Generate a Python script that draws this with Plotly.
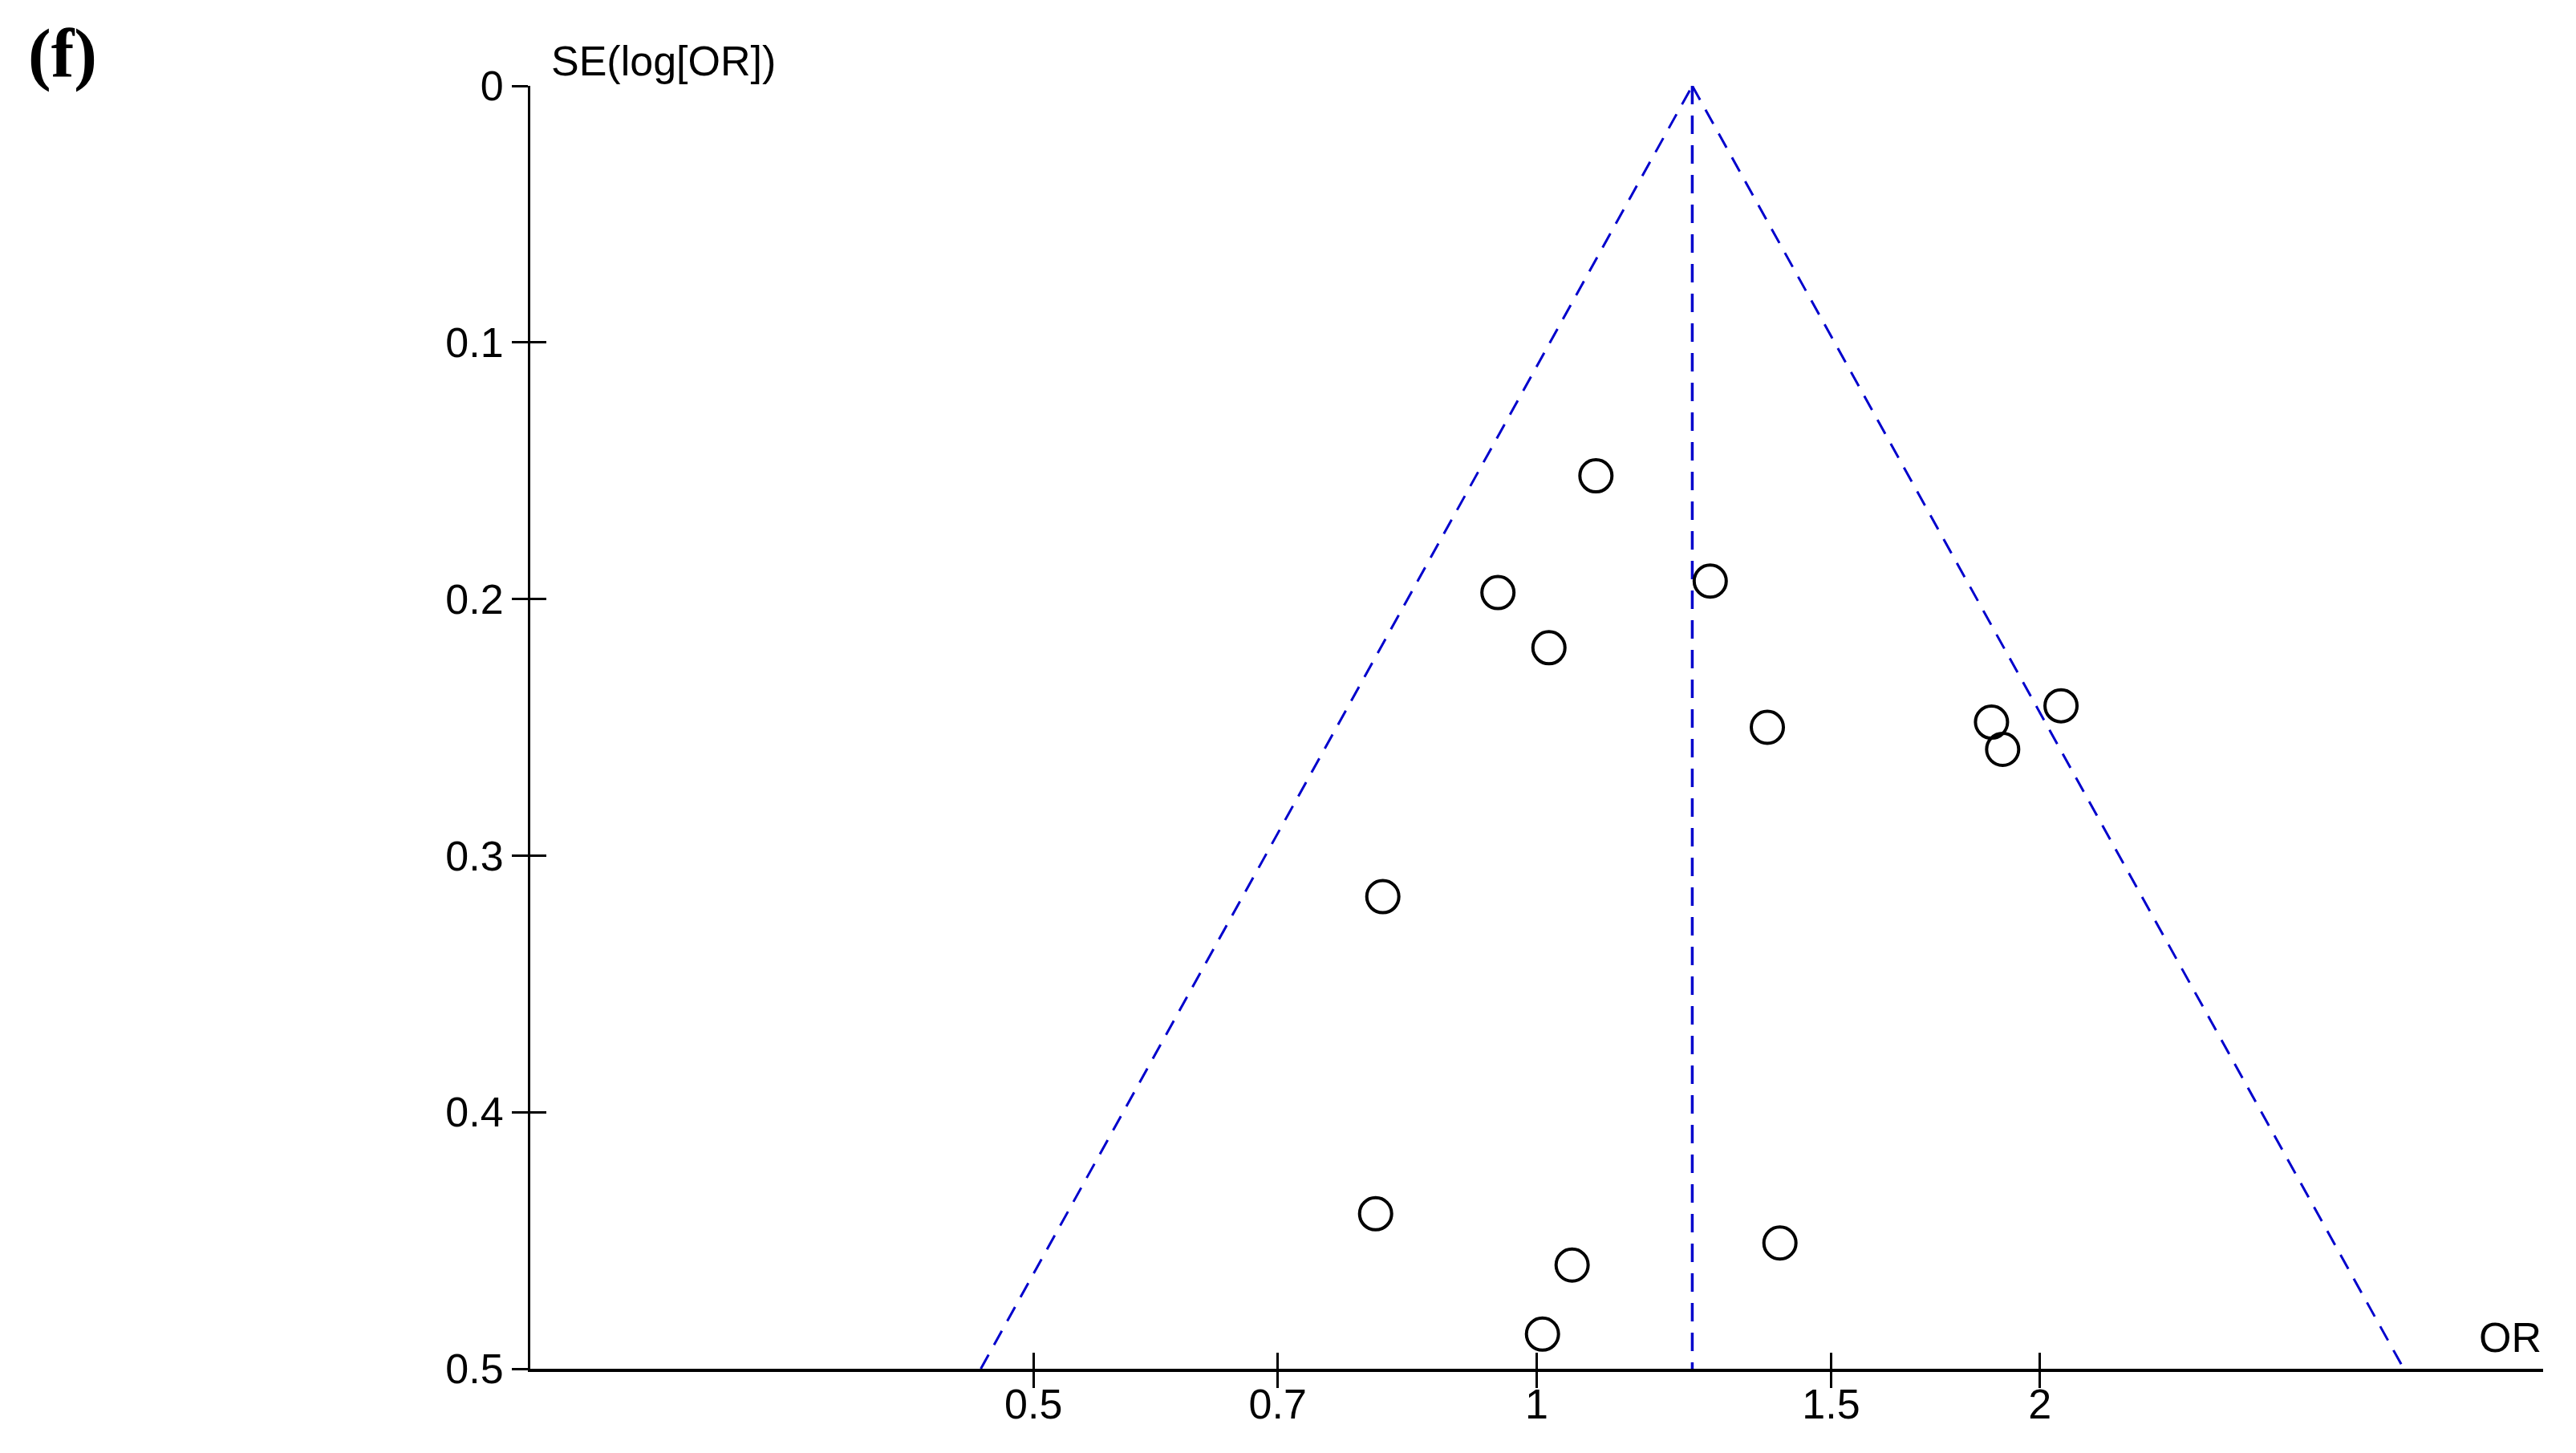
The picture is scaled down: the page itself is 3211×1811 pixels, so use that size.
import math
import plotly.graph_objects as go

# ---- data ----
study_or = [1.085, 0.948, 1.270, 1.017, 1.374, 1.871, 1.900, 2.059, 0.809, 0.801, 1.398, 1.050, 1.008]
study_se = [0.152, 0.1975, 0.193, 0.219, 0.250, 0.248, 0.2586, 0.2416, 0.316, 0.4396, 0.451, 0.4596, 0.4865]
pooled_or = 1.239
z_value = 1.96
se_max = 0.5
x_ticks = [0.5, 0.7, 1, 1.5, 2]
x_tick_labels = ["0.5", "0.7", "1", "1.5", "2"]
y_ticks = [0, 0.1, 0.2, 0.3, 0.4, 0.5]
y_tick_labels = ["0", "0.1", "0.2", "0.3", "0.4", "0.5"]
x_range_or = [0.25, 4]

BLUE = "#0000CC"
TICK_FONT = dict(family="Liberation Sans Narrow, Arial Narrow, Liberation Sans, Arial", size=52, color="black")

# funnel limits derived from pooled estimate
lp = math.log(pooled_or)
left_x = [math.exp(lp - z_value * se_max), pooled_or]
right_x = [pooled_or, math.exp(lp + z_value * se_max)]
funnel_y = [se_max, 0]

fig = go.Figure()
fig.add_trace(go.Scatter(x=left_x, y=funnel_y, mode="lines",
                         line=dict(color=BLUE, width=3, dash="20px,14px"), hoverinfo="skip"))
fig.add_trace(go.Scatter(x=right_x, y=[0, se_max], mode="lines",
                         line=dict(color=BLUE, width=3, dash="20px,14px"), hoverinfo="skip"))
fig.add_trace(go.Scatter(x=[pooled_or, pooled_or], y=[0, se_max], mode="lines",
                         line=dict(color=BLUE, width=3.5, dash="23px,14px"), hoverinfo="skip"))
fig.add_trace(go.Scatter(x=study_or, y=study_se, mode="markers",
                         marker=dict(symbol="circle-open", size=40, color="black",
                                     line=dict(color="black", width=4))))
# invisible trace to activate the overlay axes that draw the inner half of each tick
fig.add_trace(go.Scatter(x=[pooled_or], y=[0], xaxis="x2", yaxis="y2", mode="markers",
                         marker=dict(opacity=0), hoverinfo="skip"))

xr = [math.log10(x_range_or[0]), math.log10(x_range_or[1])]
yr = [y_ticks[-1], y_ticks[0]]

common_x = dict(type="log", range=xr, tickmode="array", tickvals=x_ticks, showgrid=False, zeroline=False)
common_y = dict(range=yr, tickmode="array", tickvals=y_ticks, showgrid=False, zeroline=False)

fig.update_layout(
    width=3203, height=1803,
    paper_bgcolor="white", plot_bgcolor="white",
    showlegend=False,
    margin=dict(l=653, r=41, t=99, b=105, autoexpand=False),
    xaxis=dict(**common_x, ticktext=x_tick_labels, ticks="outside", ticklen=20, tickwidth=3,
               tickcolor="black", showline=True, linewidth=4, linecolor="black",
               tickfont=TICK_FONT, ticklabelstandoff=-24),
    yaxis=dict(**common_y, ticktext=y_tick_labels, ticks="outside", ticklen=20, tickwidth=3,
               tickcolor="black", showline=True, linewidth=3, linecolor="black",
               tickfont=TICK_FONT),
    xaxis2=dict(**common_x, overlaying="x", side="bottom", anchor="y2", ticks="inside", ticklen=20,
                tickwidth=3, tickcolor="black", showticklabels=False, showline=False),
    yaxis2=dict(**common_y, overlaying="y", side="left", anchor="x2", ticks="inside", ticklen=20,
                tickwidth=3, tickcolor="black", showticklabels=False, showline=False),
    annotations=[
        dict(text="SE(log[OR])", xref="paper", yref="paper", x=0.0096, y=1, xanchor="left",
             yanchor="bottom", yshift=0, showarrow=False, font=TICK_FONT),
        dict(text="OR", xref="paper", yref="paper", x=1, y=0, xanchor="right",
             yanchor="bottom", yshift=8, showarrow=False, font=TICK_FONT),
        dict(text="<b>(f)</b>", xref="paper", yref="paper", x=-0.2501, y=1.025, xanchor="left",
             yanchor="middle", showarrow=False,
             font=dict(family="Liberation Serif, Times New Roman, serif", size=86, color="black")),
    ],
)

fig.write_html("out.html")
